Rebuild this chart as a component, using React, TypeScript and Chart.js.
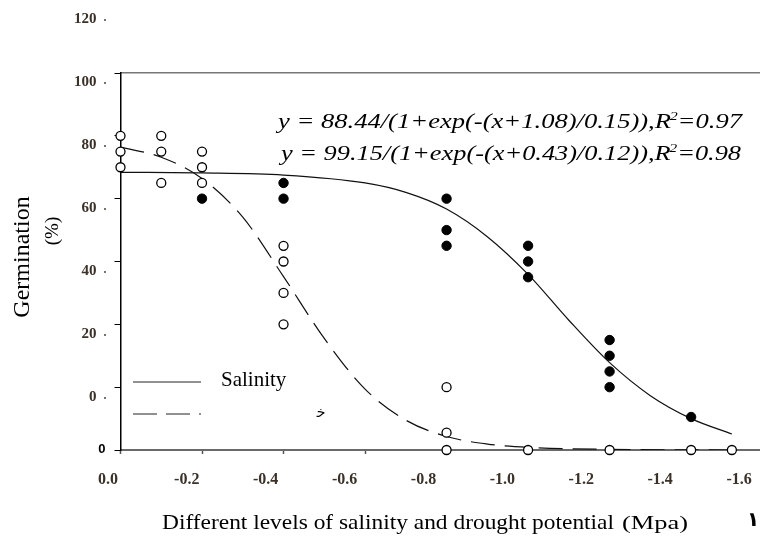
import React, { useEffect, useRef } from 'react';
import { Chart, registerables } from 'chart.js';

Chart.register(...registerables);

// ---- tick labels ----
const xTickValues = [0, -0.2, -0.4, -0.6, -0.8, -1.0, -1.2, -1.4, -1.6];
const xTickLabels = ['0.0', '-0.2', '-0.4', '-0.6', '-0.8', '-1.0', '-1.2', '-1.4', '-1.6'];
const yTickValues = [0, 20, 40, 60, 80, 100, 120];
const yTickLabels = ['0', '20', '40', '60', '80', '100', '120'];

// ---- observed points ----
const salinityPointX = [-0.2, -0.4, -0.4, -0.8, -0.8, -0.8, -1.0, -1.0, -1.0, -1.2, -1.2, -1.2, -1.2, -1.4];
const salinityPointY = [80, 85, 80, 80, 70, 65, 65, 60, 55, 35, 30, 25, 20, 10.5];
const droughtPointX = [0, 0, 0, -0.1, -0.1, -0.1, -0.2, -0.2, -0.2, -0.4, -0.4, -0.4, -0.4, -0.8, -0.8, -0.8, -1.0, -1.2, -1.4, -1.5];
const droughtPointY = [100, 95, 90, 100, 95, 85, 95, 90, 85, 65, 60, 50, 40, 20, 5.5, 0, 0, 0, 0, 0];

// ---- fitted curves ----
const salinityCurveX = [0, -0.2, -0.4, -0.6, -0.7, -0.8, -0.9, -1.0, -1.1, -1.2, -1.3, -1.4, -1.5];
const salinityCurveY = [88.4, 88.2, 87.5, 85.0, 82.0, 76.7, 67.9, 55.9, 41.3, 27.8, 17.3, 10.0, 5.1];
const droughtCurveX = [0, -0.1, -0.2, -0.3, -0.4, -0.5, -0.6, -0.7, -0.8, -0.9, -1.0, -1.2, -1.5];
const droughtCurveY = [96.4, 93.2, 86.4, 74.1, 55.2, 35.5, 19.4, 9.5, 4.3, 1.9, 0.85, 0.2, 0.0];

// ---- texts ----
const seriesLabels = ['Salinity', 'ﺧ'];
const equationSalinity = ['y = 88.44/(1+exp(-(x+1.08)/0.15)),R', '2', '=0.97'];
const equationDrought = ['y = 99.15/(1+exp(-(x+0.43)/0.12)),R', '2', '=0.98'];
const yTitle = ['Germination', '(%)'];
const xTitle = ['Different levels of salinity and drought potential', '(Mpa)'];
const figureNumber = '۱';

const LABEL_COLOR = '#3a3128';

function zip(xs: number[], ys: number[]) {
  return xs.map((x, i) => ({ x, y: ys[i] }));
}

function drawStretched(ctx: CanvasRenderingContext2D, text: string, x: number, y: number, font: string, width: number) {
  ctx.save();
  ctx.font = font;
  const w = ctx.measureText(text).width;
  ctx.translate(x, y);
  ctx.scale(width / w, 1);
  ctx.textAlign = 'left';
  ctx.textBaseline = 'alphabetic';
  ctx.fillText(text, 0, 0);
  ctx.restore();
}

function drawEquation(ctx: CanvasRenderingContext2D, parts: string[], x: number, baseline: number, width: number) {
  const [main, sup, tail] = parts;
  const mainFont = 'italic 20px "Liberation Serif"';
  const supFont = 'italic 12px "Liberation Serif"';
  ctx.save();
  ctx.font = mainFont;
  const w1 = ctx.measureText(main).width;
  const w3 = ctx.measureText(tail).width;
  ctx.font = supFont;
  const w2 = ctx.measureText(sup).width;
  const total = w1 - 1 + w2 + w3;
  ctx.translate(x, baseline);
  ctx.scale(width / total, 1);
  ctx.textAlign = 'left';
  ctx.textBaseline = 'alphabetic';
  ctx.fillStyle = '#000';
  ctx.font = mainFont;
  ctx.fillText(main, 0, 0);
  ctx.font = supFont;
  ctx.fillText(sup, w1 - 1, -8);
  ctx.font = mainFont;
  ctx.fillText(tail, w1 - 1 + w2, 0);
  ctx.restore();
}

const figurePlugin = {
  id: 'figureText',
  afterDraw(chart: any) {
    const ctx: CanvasRenderingContext2D = chart.ctx;
    const xo = chart.scales.xo;
    const yo = chart.scales.yo;
    const y = chart.scales.y;
    const area = chart.chartArea;
    ctx.save();

    // outer y tick labels
    ctx.fillStyle = LABEL_COLOR;
    ctx.font = 'bold 15px "Liberation Serif"';
    ctx.textAlign = 'right';
    ctx.textBaseline = 'middle';
    yTickValues.forEach((v, i) => {
      const py = yo.getPixelForValue(v);
      ctx.fillText(yTickLabels[i], area.left - 24, py);
      ctx.beginPath();
      ctx.arc(area.left - 15.5, py + 1, 0.9, 0, Math.PI * 2);
      ctx.fill();
    });

    // inner bold zero
    ctx.fillStyle = '#000';
    ctx.font = 'bold 13px "Liberation Sans"';
    ctx.fillText(yTickLabels[0], area.left - 15, y.getPixelForValue(0) - 1);

    // outer x tick labels
    ctx.fillStyle = LABEL_COLOR;
    ctx.font = 'bold 16px "Liberation Serif"';
    ctx.textAlign = 'center';
    xTickValues.forEach((v, i) => {
      ctx.fillText(xTickLabels[i], xo.getPixelForValue(v), area.bottom + 30);
    });

    // equations
    drawEquation(ctx, equationSalinity, 278, 128, 464);
    drawEquation(ctx, equationDrought, 281, 160, 460);

    // legend
    const ds = chart.data.datasets;
    ctx.strokeStyle = '#222';
    ctx.lineWidth = 1.2;
    ctx.setLineDash([]);
    ctx.beginPath();
    ctx.moveTo(133, 382);
    ctx.lineTo(201, 382);
    ctx.stroke();
    ctx.setLineDash(ds[3].borderDash ? [24, 9] : []);
    ctx.beginPath();
    ctx.moveTo(133, 414);
    ctx.lineTo(201, 414);
    ctx.stroke();
    ctx.setLineDash([]);
    ctx.fillStyle = '#000';
    ctx.textAlign = 'left';
    ctx.textBaseline = 'alphabetic';
    ctx.font = '21px "Liberation Serif"';
    ctx.fillText(seriesLabels[0], 221, 386);
    ctx.font = '14px "DejaVu Sans"';
    ctx.textAlign = 'center';
    ctx.textBaseline = 'middle';
    ctx.fillText(seriesLabels[1], 321, 413);

    // y title
    ctx.save();
    ctx.translate(29, 257);
    ctx.rotate(-Math.PI / 2);
    ctx.textAlign = 'center';
    ctx.textBaseline = 'alphabetic';
    ctx.font = '24px "Liberation Serif"';
    ctx.fillText(yTitle[0], 0, 0);
    ctx.restore();
    ctx.save();
    ctx.translate(58, 231);
    ctx.rotate(-Math.PI / 2);
    ctx.textAlign = 'center';
    ctx.textBaseline = 'alphabetic';
    ctx.font = '19px "Liberation Serif"';
    ctx.fillText(yTitle[1], 0, 0);
    ctx.restore();

    // x title
    ctx.fillStyle = '#000';
    drawStretched(ctx, xTitle[0], 162, 529, '21px "Liberation Serif"', 452);
    drawStretched(ctx, xTitle[1], 622, 529, '18px "Liberation Serif"', 66);

    // figure number
    ctx.font = 'bold 20px "DejaVu Sans"';
    ctx.textAlign = 'center';
    ctx.textBaseline = 'middle';
    ctx.fillText(figureNumber, 753, 521);

    ctx.restore();
  },
};

export default function App() {
  const ref = useRef<HTMLCanvasElement | null>(null);

  useEffect(() => {
    if (!ref.current) return;
    const chart = new Chart(ref.current, {
      type: 'scatter',
      data: {
        datasets: [
          {
            label: seriesLabels[0] + ' observed',
            data: zip(salinityPointX, salinityPointY),
            backgroundColor: '#000',
            borderColor: '#000',
            borderWidth: 1,
            pointRadius: 4.7,
            showLine: false,
            clip: false,
            order: 0,
          },
          {
            label: 'Drought observed',
            data: zip(droughtPointX, droughtPointY),
            backgroundColor: '#fff',
            borderColor: '#000',
            borderWidth: 1.3,
            pointRadius: 4.5,
            showLine: false,
            clip: false,
            order: 0,
          },
          {
            label: seriesLabels[0],
            data: zip(salinityCurveX, salinityCurveY),
            borderColor: '#111',
            borderWidth: 1.2,
            pointRadius: 0,
            showLine: true,
            cubicInterpolationMode: 'monotone',
            order: 2,
          },
          {
            label: 'Drought',
            data: zip(droughtCurveX, droughtCurveY),
            borderColor: '#111',
            borderWidth: 1.2,
            borderDash: [24, 10],
            pointRadius: 0,
            showLine: true,
            cubicInterpolationMode: 'monotone',
            order: 2,
          },
        ] as any,
      },
      options: {
        responsive: false,
        animation: false,
        events: [],
        layout: { autoPadding: false, padding: { left: 120.5, top: 73, right: 0, bottom: 86 } },
        plugins: { legend: { display: false }, tooltip: { enabled: false } },
        scales: {
          x: {
            type: 'linear',
            position: 'bottom',
            reverse: true,
            min: -1.569,
            max: 0,
            ticks: { display: false, stepSize: 0.2, includeBounds: false },
            grid: { drawOnChartArea: false, drawTicks: true, tickLength: 4, tickColor: '#555', tickWidth: 1.5 },
            border: { display: true, color: '#6a6a6a', width: 2 },
            afterFit: (s: any) => { s.height = 0; },
          },
          xTop: {
            type: 'linear',
            axis: 'x',
            position: 'top',
            ticks: { display: false },
            grid: { drawOnChartArea: false, drawTicks: false },
            border: { display: true, color: '#777', width: 1.6 },
            afterFit: (s: any) => { s.height = 0; },
          },
          y: {
            type: 'linear',
            position: 'left',
            min: 0,
            max: 120,
            ticks: { display: false, stepSize: 20 },
            grid: { drawOnChartArea: false, drawTicks: true, tickLength: 6, tickColor: '#000', tickWidth: 1 },
            border: { display: true, color: '#000', width: 1.5 },
            afterFit: (s: any) => { s.width = 0; },
          },
          xo: { type: 'linear', axis: 'x', display: false, reverse: true, min: -1.653, max: -0.032 },
          yo: { type: 'linear', axis: 'y', display: false, min: -16.83, max: 102.85 },
        } as any,
      },
      plugins: [figurePlugin],
    });
    return () => chart.destroy();
  }, []);

  return (
    <div style={{ position: 'absolute', left: 0, top: 0, width: 760, height: 536, background: '#fff' }}>
      <canvas ref={ref} width={760} height={536} style={{ display: 'block' }} />
    </div>
  );
}
